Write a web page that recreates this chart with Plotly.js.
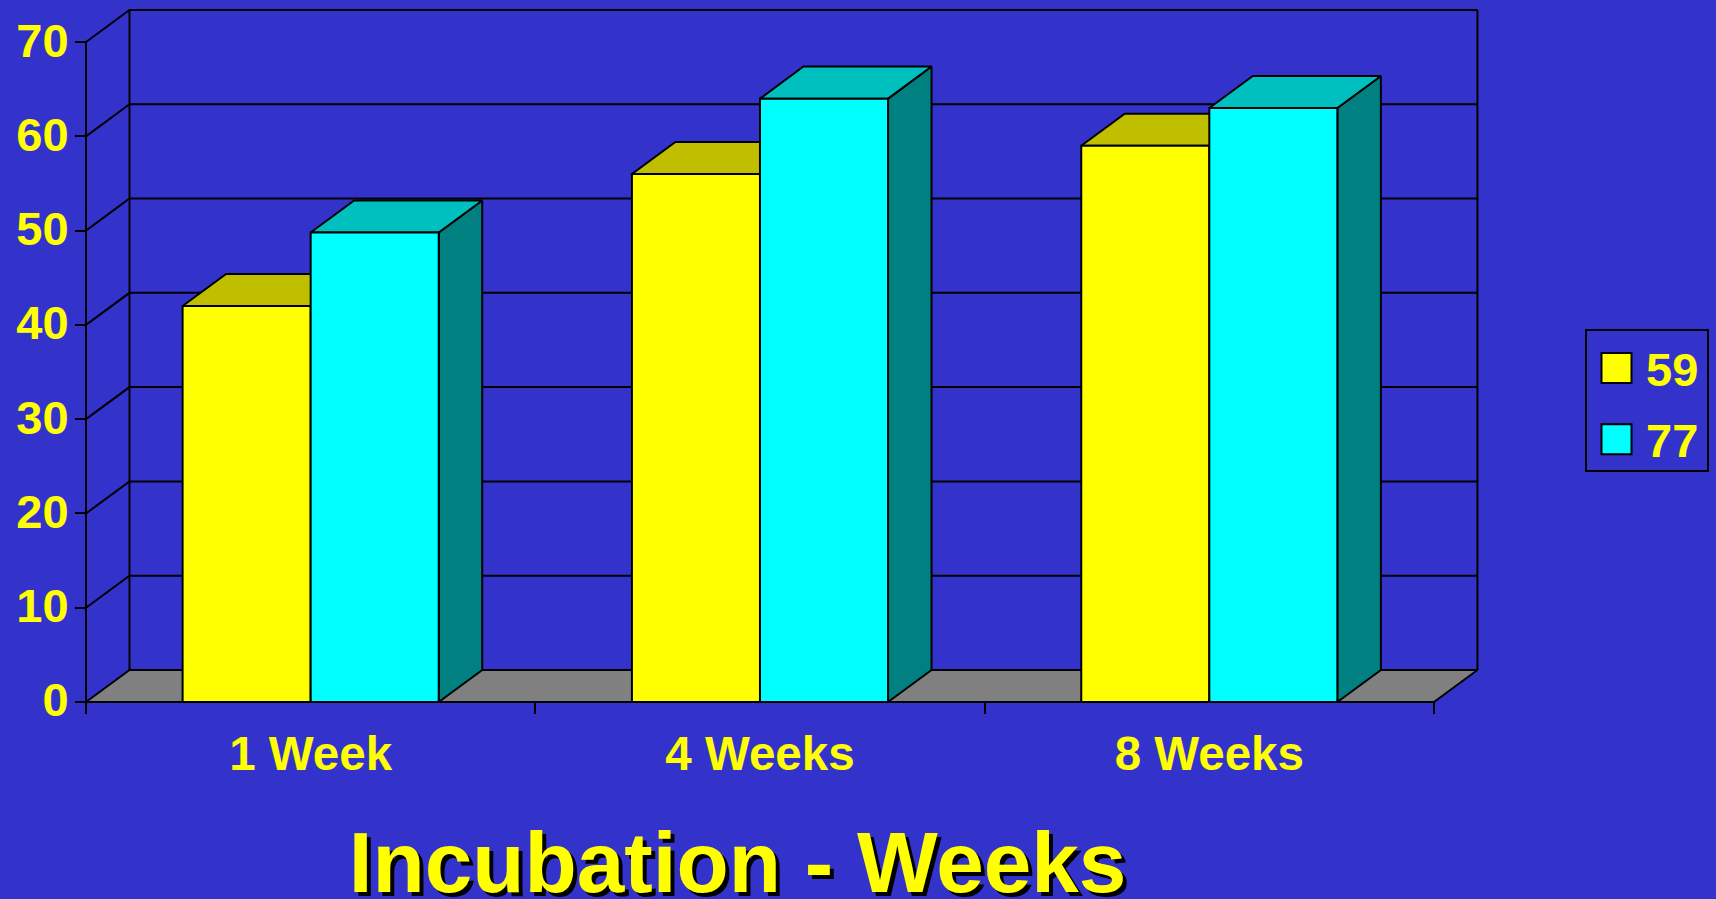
<!DOCTYPE html>
<html>
<head>
<meta charset="utf-8">
<script src="https://cdn.plot.ly/plotly-3.0.1.min.js"></script>
<style>html,body{margin:0;padding:0;background:#3333CC;overflow:hidden}</style>
</head>
<body>
<div id="chart" style="width:1716px;height:899px"></div>
<script>
// Values
const categories = ['1 Week', '4 Weeks', '8 Weeks'];
const seriesNames = ['59', '77'];
const series59 = [42, 56, 59];
const series77 = [49.8, 64, 63];
const yTicks = [0, 10, 20, 30, 40, 50, 60, 70];

// Colours
const BG = '#3333CC', INK = '#000000', TEXT = '#FFFF00', FLOOR = '#808080';
const FRONT = ['#FFFF00', '#00FFFF'];
const TOP = ['#BFBF00', '#00BFBF'];
const SIDE = ['#808000', '#008080'];

// Oblique projection: how far the box depth shifts in axis units
const DEPTH_X = 0.0968, DEPTH_Y = 3.4;
const BARGAP = 0.43;
const X0 = -0.5, X1 = 2.5, YMAX = 70;
// The plot area runs a few pixels past the frame so its outer lines are not clipped
const X_RANGE = [-0.5089, 2.6069], Y_RANGE = [-0.4245, 73.825];
const FONT = 'Liberation Sans, Arial, sans-serif';

const idx = categories.map((_, i) => i);
const barW = (1 - BARGAP) / 2;

function lineTrace(xs, ys, width) {
  return {type: 'scatter', mode: 'lines', x: xs, y: ys, cliponaxis: false,
          line: {color: INK, width: width || 2}, hoverinfo: 'skip', showlegend: false};
}
function polyTrace(xs, ys, fill) {
  return {type: 'scatter', mode: 'lines', x: xs, y: ys, fill: 'toself', fillcolor: fill, cliponaxis: false,
          line: {color: INK, width: 2}, hoverinfo: 'skip', showlegend: false};
}

// Floor, back wall gridlines and the slanted side-wall ticks
const floor = polyTrace(
  [X0, X0 + DEPTH_X, X1 + DEPTH_X, X1, X0],
  [0, DEPTH_Y, DEPTH_Y, 0, 0], FLOOR);
const gridX = [], gridY = [];
yTicks.slice(1).forEach(v => {
  gridX.push(X0, X0 + DEPTH_X, X1 + DEPTH_X, null);
  gridY.push(v, v + DEPTH_Y, v + DEPTH_Y, null);
});
const walls = lineTrace(
  [X0, X0, null, X0 + DEPTH_X, X0 + DEPTH_X, null, X1 + DEPTH_X, X1 + DEPTH_X, null, X0, X1],
  [0, YMAX, null, DEPTH_Y, YMAX + DEPTH_Y, null, DEPTH_Y, YMAX + DEPTH_Y, null, 0, 0], 2);

// Top and side faces of each box, sitting behind the front faces
function faces(values, s) {
  const tx = [], ty = [], sx = [], sy = [];
  values.forEach((v, i) => {
    const l = i - barW + s * barW, r = l + barW;
    tx.push(l, l + DEPTH_X, r + DEPTH_X, r, l, null);
    ty.push(v, v + DEPTH_Y, v + DEPTH_Y, v, v, null);
    sx.push(r, r + DEPTH_X, r + DEPTH_X, r, r, null);
    sy.push(0, DEPTH_Y, v + DEPTH_Y, v, 0, null);
  });
  return [polyTrace(sx, sy, SIDE[s]), polyTrace(tx, ty, TOP[s])];
}

// Front faces live on an overlaid pair of axes so they paint above the faces
function bars(values, s) {
  return {type: 'bar', name: seriesNames[s], x: idx, y: values, xaxis: 'x2', yaxis: 'y2',
          legendgroup: seriesNames[s], cliponaxis: false,
          marker: {color: FRONT[s], line: {color: INK, width: 2}}, hoverinfo: 'y'};
}

const traces = [
  floor,
  lineTrace(gridX, gridY, 2),
  walls,
  ...faces(series59, 0),
  ...faces(series77, 1),
  bars(series59, 0),
  bars(series77, 1)
];

const layout = {
  width: 1716, height: 899,
  paper_bgcolor: BG, plot_bgcolor: BG,
  margin: {l: 82, r: 234, t: 6, b: 193.3, pad: 0},
  barmode: 'group', bargap: BARGAP, bargroupgap: 0,
  title: {
    text: 'Incubation - Weeks', xref: 'paper', x: 0.4683, xanchor: 'center',
    yref: 'container', y: 0.041, yanchor: 'middle',
    font: {family: FONT, size: 85.5, weight: 700, color: TEXT, shadow: '4px 4px 0 #000000'}
  },
  xaxis: {
    range: X_RANGE, showgrid: false, zeroline: false, showline: false, fixedrange: true,
    anchor: 'free', position: 0.005717,
    tickmode: 'array', tickvals: idx, ticktext: categories,
    ticks: 'outside', ticklen: 0, ticklabelstandoff: 10,
    tickfont: {family: FONT, size: 47.5, weight: 700, color: TEXT},
    minor: {tickmode: 'array', tickvals: [-0.5, 0.5, 1.5, 2.5], ticks: 'outside',
            ticklen: 11, tickwidth: 2, tickcolor: INK, showgrid: false}
  },
  yaxis: {
    range: Y_RANGE, showgrid: false, zeroline: false, showline: false, fixedrange: true,
    anchor: 'free', position: 0.002857,
    tickmode: 'array', tickvals: yTicks,
    ticks: 'outside', ticklen: 11, tickwidth: 2, tickcolor: INK,
    ticklabelstandoff: -3, ticklabelshift: -2,
    tickfont: {family: FONT, size: 47, weight: 700, color: TEXT}
  },
  xaxis2: {overlaying: 'x', range: X_RANGE, visible: false, fixedrange: true},
  yaxis2: {overlaying: 'y', range: Y_RANGE, visible: false, fixedrange: true},
  showlegend: true,
  legend: {
    x: 1585 / 1716, xref: 'container', xanchor: 'left',
    y: 1 - 329 / 899, yref: 'container', yanchor: 'top',
    bgcolor: BG, bordercolor: INK, borderwidth: 2,
    font: {family: FONT, size: 47, weight: 700, color: TEXT},
    traceorder: 'grouped', tracegroupgap: 7, itemwidth: 49, entrywidth: 60,
    itemclick: false, itemdoubleclick: false
  }
};

const gd = document.getElementById('chart');
Plotly.newPlot(gd, traces, layout, {displayModeBar: false, responsive: false}).then(() => {
  // Legend swatches at the larger square size, box sized around them
  gd.querySelectorAll('.legend .legendpoints path').forEach(p => {
    p.setAttribute('d', 'M15,15H-15V-15H15Z');
  });
  const box = gd.querySelector('.legend .bg');
  if (box) {
    box.setAttribute('height', 141);
    box.setAttribute('width', 122);
  }
});
</script>
</body>
</html>
